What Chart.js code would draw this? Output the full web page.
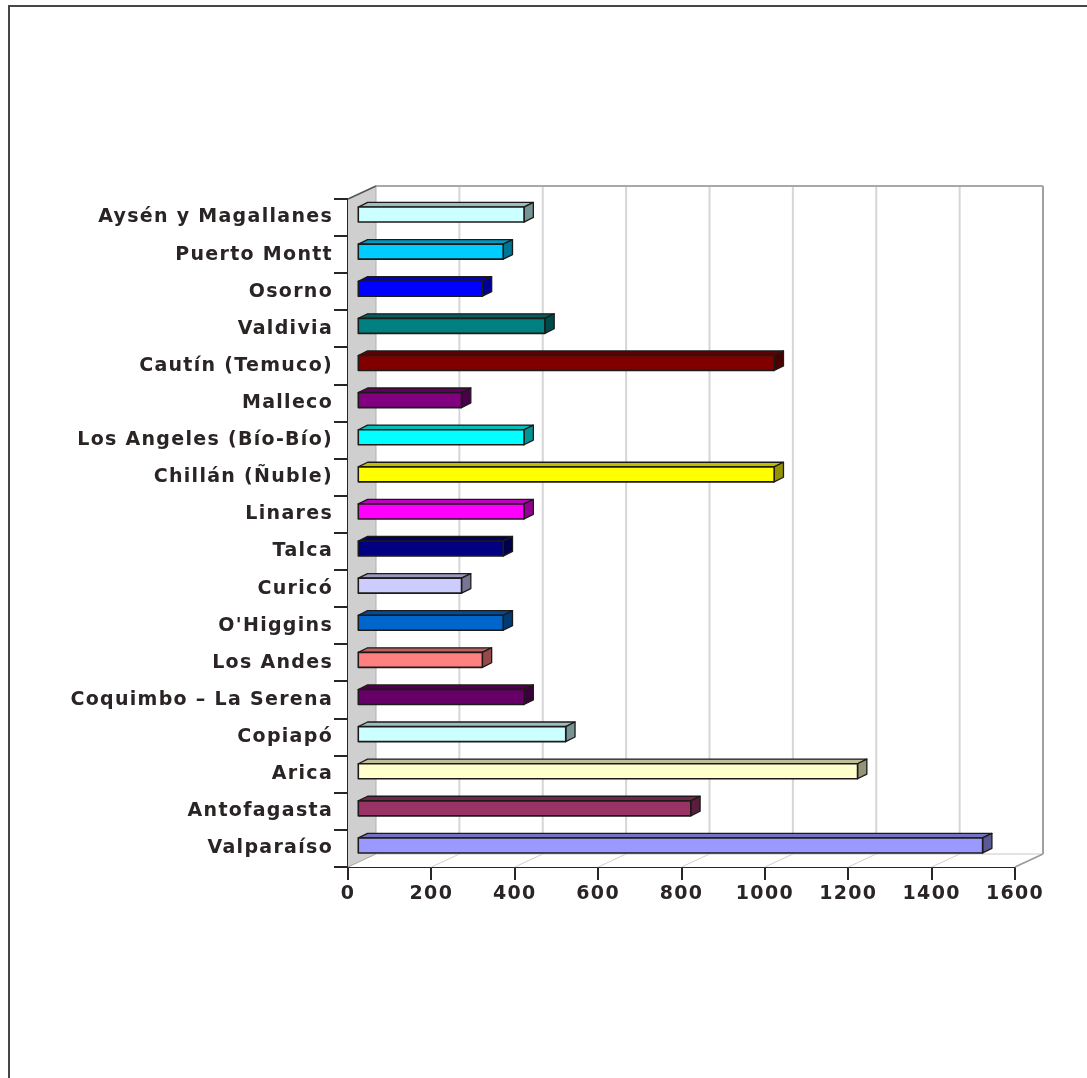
<!DOCTYPE html>
<html>
<head>
<meta charset="utf-8">
<script src="https://cdn.jsdelivr.net/npm/chart.js@4/dist/chart.umd.min.js"></script>
<style>
  html, body { margin: 0; padding: 0; background: #fff; overflow: hidden; }
  #frame { position: absolute; left: 8px; top: 5px; width: 1200px; height: 1200px;
           border-left: 2px solid #4b4444; border-top: 2px solid #4b4444; }
  #chart { position: absolute; left: 0; top: 0; }
</style>
</head>
<body>
<div id="frame"></div>
<canvas id="chart" width="1087" height="1078"></canvas>
<script>
// categories, top to bottom
const regions = [
    'Aysén y Magallanes', 'Puerto Montt', 'Osorno', 'Valdivia', 'Cautín (Temuco)',
    'Malleco', 'Los Angeles (Bío-Bío)', 'Chillán (Ñuble)', 'Linares', 'Talca',
    'Curicó', "O'Higgins", 'Los Andes', 'Coquimbo – La Serena', 'Copiapó',
    'Arica', 'Antofagasta', 'Valparaíso'
];
const values = [400, 350, 300, 450, 1000, 250, 400, 1000, 400, 350, 250, 350, 300, 400, 500, 1200, 800, 1500];
const barColors = [
    '#CCFFFF', '#00CCFF', '#0000FF', '#008080', '#800000',
    '#800080', '#00FFFF', '#FFFF00', '#FF00FF', '#000080',
    '#CCCCFF', '#0066CC', '#FF8080', '#660066', '#CCFFFF',
    '#FFFFCC', '#993366', '#9999FF'
];
const xMax = 1600;
const xStep = 200;

const textColor = '#2a2424';
const depth = { x: 28, y: -13 };     // wall depth
const barShift = { x: 9.3, y: -3 };  // front face of bars inside the box
const barDepth = { x: 9.3, y: -4.6 };

function shade(hex, f) {
    const n = parseInt(hex.slice(1), 16);
    const r = Math.round(((n >> 16) & 255) * f);
    const g = Math.round(((n >> 8) & 255) * f);
    const b = Math.round((n & 255) * f);
    return `rgb(${r},${g},${b})`;
}

function poly(ctx, pts, fill, stroke, lw) {
    ctx.beginPath();
    ctx.moveTo(pts[0][0], pts[0][1]);
    for (let i = 1; i < pts.length; i++) ctx.lineTo(pts[i][0], pts[i][1]);
    ctx.closePath();
    if (fill) { ctx.fillStyle = fill; ctx.fill(); }
    if (stroke) { ctx.strokeStyle = stroke; ctx.lineWidth = lw || 1; ctx.stroke(); }
}

function line(ctx, x1, y1, x2, y2, color, lw) {
    ctx.beginPath();
    ctx.moveTo(x1, y1);
    ctx.lineTo(x2, y2);
    ctx.strokeStyle = color;
    ctx.lineWidth = lw;
    ctx.stroke();
}

// 3D box: walls, floor, back grid, then the bars as prisms
const box3d = {
    id: 'box3d',
    beforeDraw(chart) {
        chart.ctx.letterSpacing = '1.3px';
    },
    beforeDatasetsDraw(chart) {
        const ctx = chart.ctx;
        const a = chart.chartArea;
        const xs = chart.scales.x;
        const dx = depth.x, dy = depth.y;
        ctx.save();
        ctx.letterSpacing = '0px';
        ctx.lineCap = 'butt';

        // floor
        poly(ctx, [[a.left, a.bottom], [a.right, a.bottom], [a.right + dx, a.bottom + dy], [a.left + dx, a.bottom + dy]], '#ffffff');
        // left wall
        poly(ctx, [[a.left, a.top], [a.left + dx, a.top + dy], [a.left + dx, a.bottom + dy], [a.left, a.bottom]], '#cfcfcf');

        // back grid lines and floor diagonals
        for (let v = xStep; v <= xMax; v += xStep) {
            const x = xs.getPixelForValue(v);
            line(ctx, x + dx, a.top + dy, x + dx, a.bottom + dy, v === xMax ? '#a0a0a0' : '#d6d6d6', 2);
            line(ctx, x, a.bottom, x + dx, a.bottom + dy, '#cfcfcf', 1);
        }
        line(ctx, a.left, a.bottom, a.left + dx, a.bottom + dy, '#a8a8a8', 1);
        // back wall edges
        line(ctx, a.left + dx, a.top + dy, a.right + dx, a.top + dy, '#a8a8a8', 2);
        line(ctx, a.left + dx, a.top + dy, a.left + dx, a.bottom + dy, '#b0b0b0', 1);
        line(ctx, a.left + dx, a.bottom + dy, a.right + dx, a.bottom + dy, '#c8c8c8', 1);
        line(ctx, a.right, a.bottom, a.right + dx, a.bottom + dy, '#9a9a9a', 1.5);
        // top edge of left wall
        line(ctx, a.left, a.top, a.left + dx, a.top + dy, '#555', 1.5);

        // bars
        const meta = chart.getDatasetMeta(0);
        meta.data.forEach((bar, i) => {
            const p = bar.getProps(['x', 'y', 'base', 'height'], true);
            const L = p.base + barShift.x, R = p.x + barShift.x;
            const T = p.y - p.height / 2 + barShift.y, B = p.y + p.height / 2 + barShift.y;
            const bx = barDepth.x, by = barDepth.y;
            const c = barColors[i];
            ctx.lineJoin = 'round';
            poly(ctx, [[L, T], [L + bx, T + by], [R + bx, T + by], [R, T]], shade(c, 0.75), '#1e1a1a', 1.3);
            poly(ctx, [[R, T], [R + bx, T + by], [R + bx, B + by], [R, B]], shade(c, 0.58), '#1e1a1a', 1.3);
            poly(ctx, [[L, T], [R, T], [R, B], [L, B]], c, '#1e1a1a', 1.6);
        });
        ctx.restore();
        return false;
    }
};

new Chart(document.getElementById('chart'), {
    type: 'bar',
    data: {
        labels: regions,
        datasets: [{
            data: values,
            backgroundColor: barColors,
            borderWidth: 0,
            barThickness: 15
        }]
    },
    options: {
        indexAxis: 'y',
        responsive: false,
        animation: false,
        layout: { padding: { top: 199, right: 72, bottom: 171, left: 0 } },
        plugins: {
            legend: { display: false },
            tooltip: { enabled: false }
        },
        scales: {
            x: {
                min: 0,
                max: xMax,
                ticks: {
                    stepSize: xStep,
                    color: textColor,
                    padding: 3,
                    maxRotation: 0,
                    callback: (v) => String(v),
                    font: { family: 'DejaVu Sans', size: 19, weight: 'bold' }
                },
                grid: { drawOnChartArea: false, drawTicks: true, tickLength: 13, color: textColor, lineWidth: 2 },
                border: { color: textColor, width: 2 },
                afterFit(scale) { scale.height = 40; }
            },
            y: {
                ticks: {
                    color: textColor,
                    padding: 1,
                    font: { family: 'DejaVu Sans', size: 19, weight: 'bold' }
                },
                grid: { drawOnChartArea: false, drawTicks: true, tickLength: 14, offset: true, color: textColor, lineWidth: 2 },
                border: { color: textColor, width: 2 },
                afterFit(scale) { scale.width = 348; }
            }
        }
    },
    plugins: [box3d]
});
</script>
</body>
</html>
